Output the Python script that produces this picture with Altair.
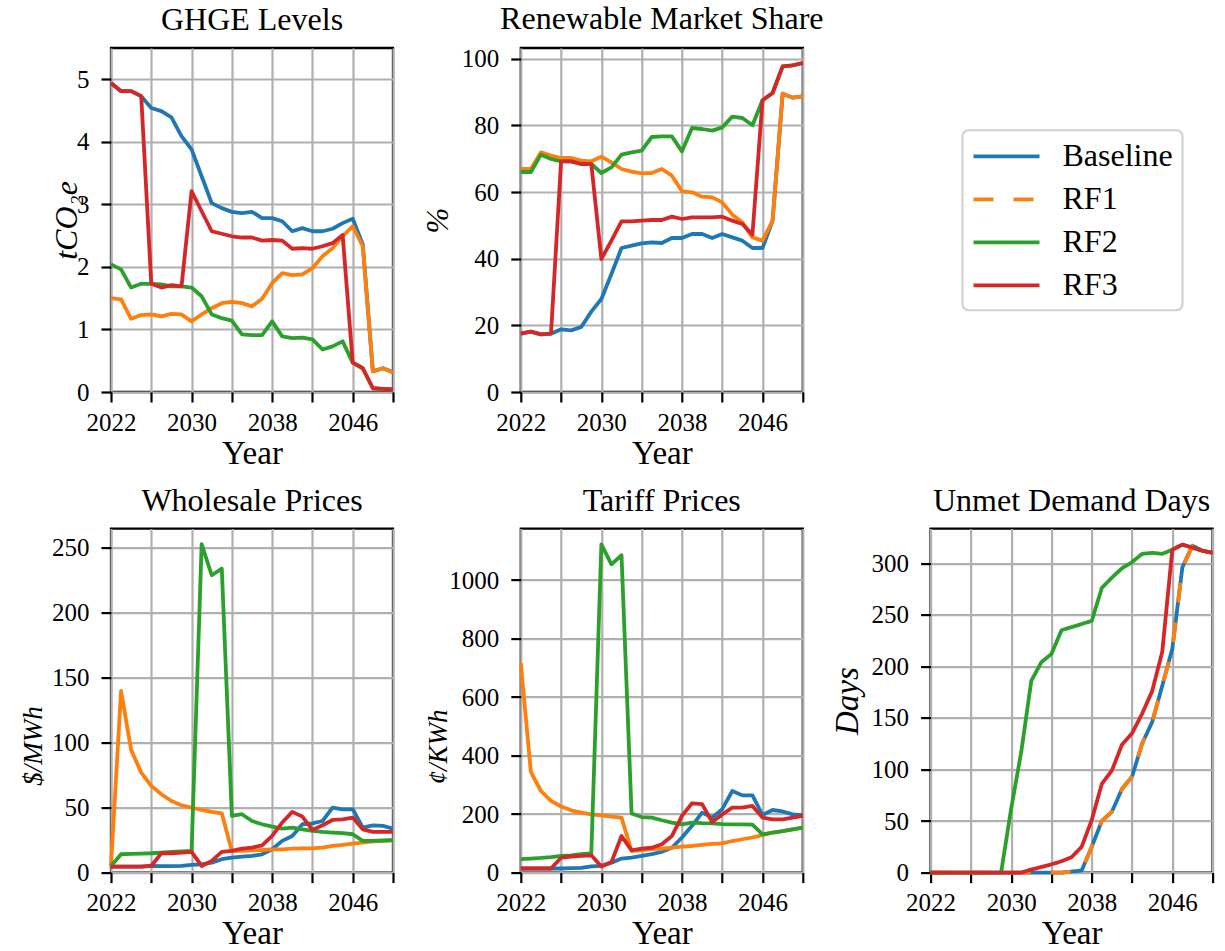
import altair as alt
import pandas as pd

FONT = "Liberation Serif"
YEARS = list(range(2022, 2051))
SERIES = ["Baseline", "RF1", "RF2", "RF3"]
COLORS = ["#1f77b4", "#ff7f0e", "#2ca02c", "#d62728"]
X_TICKS = list(range(2022, 2051, 4))

# GHGE levels (tCO2e)
ghge_baseline = [4.94, 4.81, 4.81, 4.73, 4.54, 4.49, 4.39, 4.09, 3.88, 3.45, 3.02, 2.94, 2.88, 2.86, 2.88,
                 2.78, 2.78, 2.73, 2.57, 2.62, 2.57, 2.57, 2.61, 2.70, 2.77, 2.36, 0.33, 0.38, 0.32]
ghge_rf1 = [1.50, 1.48, 1.17, 1.23, 1.24, 1.21, 1.25, 1.24, 1.13, 1.24, 1.34, 1.42, 1.44, 1.42, 1.37,
            1.49, 1.74, 1.90, 1.87, 1.88, 1.98, 2.17, 2.30, 2.49, 2.65, 2.33, 0.33, 0.38, 0.31]
ghge_rf2 = [2.04, 1.96, 1.67, 1.73, 1.73, 1.72, 1.69, 1.69, 1.67, 1.53, 1.24, 1.18, 1.14, 0.92, 0.91,
            0.91, 1.13, 0.89, 0.86, 0.87, 0.84, 0.68, 0.73, 0.81, 0.47, 0.38, 0.06, 0.05, 0.04]
ghge_rf3 = [4.94, 4.81, 4.81, 4.73, 1.73, 1.67, 1.71, 1.69, 3.21, 2.89, 2.57, 2.53, 2.49, 2.47, 2.47,
            2.42, 2.43, 2.42, 2.29, 2.30, 2.29, 2.33, 2.38, 2.51, 0.47, 0.38, 0.06, 0.05, 0.04]

# Renewable market share (%)
share_baseline = [17.5, 18.1, 17.3, 17.5, 18.8, 18.5, 19.5, 24.1, 27.9, 35.4, 43.2, 43.9, 44.6, 44.9, 44.7,
                  46.2, 46.2, 47.4, 47.4, 46.2, 47.4, 46.4, 45.4, 43.2, 43.2, 51.4, 89.5, 88.3, 88.7]
share_rf1 = [66.9, 66.9, 71.9, 70.9, 70.2, 70.2, 69.4, 69.2, 70.6, 68.9, 66.9, 66.1, 65.6, 65.7, 66.9,
             64.9, 60.2, 59.9, 58.6, 58.4, 56.9, 53.2, 50.9, 46.4, 45.4, 51.4, 89.5, 88.3, 88.7]
share_rf2 = [66.0, 66.0, 71.2, 69.9, 69.2, 69.2, 68.4, 68.4, 65.7, 67.4, 71.2, 71.9, 72.4, 76.5, 76.7,
             76.7, 72.2, 79.2, 78.9, 78.4, 79.4, 82.6, 82.2, 80.0, 87.5, 89.7, 97.7, 98.0, 98.7]
share_rf3 = [17.5, 18.1, 17.3, 17.5, 69.2, 69.2, 68.4, 68.4, 39.9, 45.4, 51.2, 51.2, 51.4, 51.6, 51.6,
             52.6, 51.9, 52.4, 52.4, 52.4, 52.6, 51.4, 50.4, 47.2, 87.5, 89.7, 97.7, 98.0, 98.7]

# Wholesale prices ($/MWh)
whole_baseline = [4.6, 4.6, 4.6, 4.6, 5.1, 5.0, 5.0, 5.1, 5.9, 6.4, 7.7, 10.3, 11.5, 12.3, 12.8,
                  14.1, 17.9, 24.4, 28.2, 37.2, 37.9, 39.7, 50.0, 48.7, 48.7, 34.6, 36.4, 35.9, 33.8]
whole_rf1 = [5.1, 139.7, 94.4, 76.9, 66.7, 60.3, 55.1, 51.8, 50.0, 48.2, 46.7, 45.6, 16.7, 16.7, 17.2,
             17.4, 17.9, 17.9, 18.5, 18.7, 18.7, 19.2, 20.5, 21.3, 22.3, 23.1, 24.1, 24.4, 24.9]
whole_rf2 = [5.1, 14.1, 14.4, 14.6, 14.9, 15.4, 15.9, 16.4, 16.7, 252.6, 228.7, 233.8, 43.6, 44.9, 39.7,
             37.2, 35.4, 33.8, 34.6, 33.3, 32.1, 31.3, 30.8, 30.3, 29.5, 24.4, 24.4, 24.7, 24.9]
whole_rf3 = [4.6, 4.6, 4.6, 4.6, 5.1, 14.9, 14.9, 15.4, 15.9, 5.1, 9.0, 15.9, 16.7, 18.5, 19.2,
             21.0, 28.2, 38.5, 46.7, 43.1, 32.8, 36.4, 40.5, 41.0, 42.3, 33.3, 31.3, 31.3, 31.3]

# Tariff prices (cents/KWh)
tariff_baseline = [14, 14, 14, 14, 14, 15, 16, 21, 23, 34, 48, 51, 57, 63, 71,
                   85, 120, 160, 205, 188, 217, 279, 264, 264, 197, 214, 209, 199, 196]
tariff_rf1 = [716, 344, 279, 245, 226, 213, 205, 199, 196, 191, 188, 74, 77, 80, 82,
              85, 89, 91, 95, 98, 100, 108, 114, 120, 128, 137, 142, 148, 154]
tariff_rf2 = [46, 48, 50, 53, 57, 59, 63, 66, 1122, 1054, 1085, 202, 190, 188, 179,
              171, 165, 171, 169, 168, 166, 165, 165, 164, 131, 137, 142, 148, 154]
tariff_rf3 = [14, 14, 14, 14, 51, 55, 57, 59, 21, 36, 125, 76, 82, 85, 97,
              125, 194, 237, 234, 173, 199, 222, 222, 228, 188, 182, 182, 188, 194]

# Unmet demand (days)
unmet_baseline = [0, 0, 0, 0, 0, 0, 0, 0, 0, 0, 0, 0, 0, 0, 1,
                  2, 25, 50, 59, 81, 93, 125, 146, 181, 217, 296, 317, 312, 310]
unmet_rf1 = [0, 0, 0, 0, 0, 0, 0, 0, 0, 0, 0, 0, 0, 0, 1,
             2, 25, 50, 59, 81, 93, 125, 146, 181, 217, 296, 317, 312, 310]
unmet_rf2 = [0, 0, 0, 0, 0, 0, 0, 0, 62, 117, 186, 204, 212, 235, 238,
             241, 244, 276, 286, 295, 301, 309, 310, 309, 313, 318, 315, 312, 310]
unmet_rf3 = [0, 0, 0, 0, 0, 0, 0, 0, 0, 0, 3, 5.5, 8, 11, 15,
             25, 51, 86, 99, 124, 135, 154, 176, 214, 313, 318, 315, 312, 310]


def frame(*series_values):
    rows = []
    for name, values in zip(SERIES, series_values):
        for year, v in zip(YEARS, values):
            rows.append({"Year": year, "Scenario": name, "Value": v})
    return pd.DataFrame(rows)


def panel(df, title, ytitle, ymax, ystep, title_x, title_size, title_y=172, legend=None, dashed=False):
    x = alt.X(
        "Year:Q",
        scale=alt.Scale(domain=[2022, 2050], nice=False, zero=False),
        axis=alt.Axis(
            values=X_TICKS,
            format="d",
            labelExpr="(datum.value - 2022) % 8 == 0 ? datum.label : ''",
            labelFlush=False,
            title="Year",
            titleY=71,
            titleBaseline="alphabetic",
            labelBaseline="alphabetic",
            labelPadding=28,
        ),
    )
    y = alt.Y(
        "Value:Q",
        scale=alt.Scale(domain=[0, ymax], nice=False),
        axis=alt.Axis(
            values=list(range(0, int(ymax) + 1, ystep)),
            format="d",
            labelFlush=False,
            title=ytitle,
            titleX=title_x,
            titleY=title_y,
            titleFontSize=title_size,
            titleBaseline="middle",
            titleFontStyle="italic",
            labelPadding=12,
        ),
    )
    color = alt.Color("Scenario:N", scale=alt.Scale(domain=SERIES, range=COLORS), legend=legend)
    enc = dict(x=x, y=y, color=color)
    base = alt.Chart(df)
    if dashed:
        # Baseline and RF1 coincide here, so RF1 is dashed over Baseline
        base = base.transform_calculate(Dash="datum.Scenario")
        enc["strokeDash"] = alt.StrokeDash(
            "Dash:N",
            scale=alt.Scale(domain=SERIES, range=[[1, 0], [20, 20], [1, 0], [1, 0]]),
            legend=None,
        )
    return (
        base.mark_line(strokeWidth=3.8, strokeJoin="round")
        .encode(**enc)
        .properties(
            width=282,
            height=344,
            title=alt.TitleParams(title, frame="group", baseline="alphabetic", offset=-14),
        )
    )


legend = alt.Legend(
    orient="none",
    legendX=851.5,
    legendY=82.3,
    title=None,
    symbolType="M-2.2,0H2.2",
    symbolSize=900,
    symbolOffset=18,
    symbolStrokeWidth=3.8,
    labelFont=FONT,
    labelFontSize=32,
    labelColor="black",
    labelOffset=39,
    rowPadding=10,
    padding=9,
    strokeColor="#cfcfcf",
    fillColor="white",
    cornerRadius=6,
)

p1 = panel(frame(ghge_baseline, ghge_rf1, ghge_rf2, ghge_rf3), "GHGE Levels", "tCO₂e", 5.5, 1, -45, 32, legend=legend)
p2 = panel(frame(share_baseline, share_rf1, share_rf2, share_rf3), "Renewable Market Share", "%", 103.2, 20, -82, 31)
p3 = panel(frame(whole_baseline, whole_rf1, whole_rf2, whole_rf3), "Wholesale Prices", "$/MWh", 264.6, 50, -78, 27, title_y=217)
p4 = panel(frame(tariff_baseline, tariff_rf1, tariff_rf2, tariff_rf3), "Tariff Prices", "¢/KWh", 1176, 200, -82, 27, title_y=218)
p5 = panel(frame(unmet_baseline, unmet_rf1, unmet_rf2, unmet_rf3), "Unmet Demand Days", "Days", 333.5, 50, -83, 33, dashed=True)

# empty cell in the top-right corner, where the legend sits
blank = (
    alt.Chart(pd.DataFrame({"v": [0]}))
    .mark_text(text="")
    .encode(x=alt.value(0), y=alt.value(0))
    .properties(width=282, height=344, view=alt.ViewBackground(stroke="transparent"))
)

chart = (
    alt.concat(p1, p2, blank, p3, p4, p5, columns=3, spacing={"column": 127.8, "row": 136.6}, bounds="flush")
    .properties(padding={"left": 17, "top": 1, "right": 5, "bottom": 5}, background="white")
    .configure_view(stroke="black", strokeWidth=2.3)
    .configure_legend(strokeWidth=2)
    .configure_axis(
        labelFont=FONT,
        labelFontSize=25,
        labelColor="black",
        titleFont=FONT,
        titleFontSize=33,
        titleFontWeight="normal",
        titleColor="black",
        tickColor="black",
        tickWidth=2.2,
        tickSize=10,
        gridColor="#b0b0b0",
        gridWidth=2.2,
        gridOpacity=1,
        domain=False,
    )
    .configure_title(font=FONT, fontSize=32, fontWeight="normal", color="black", anchor="middle")
)

chart.save("out.html", embed_options={"renderer": "svg", "actions": False})
